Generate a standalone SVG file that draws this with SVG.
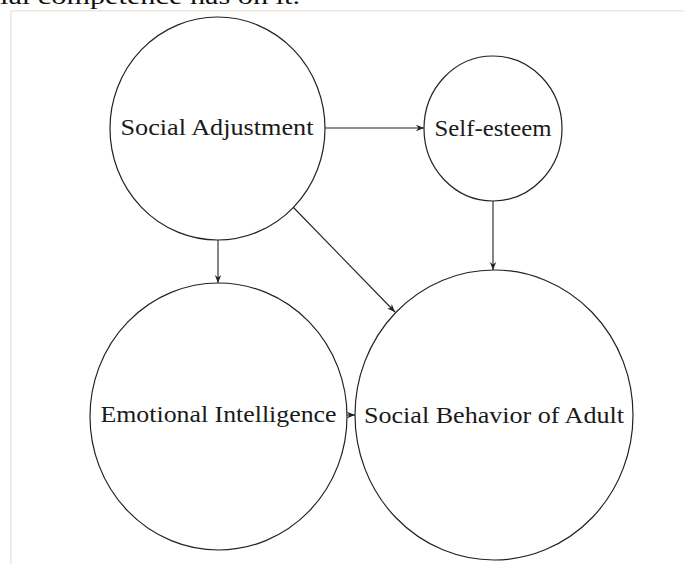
<svg xmlns="http://www.w3.org/2000/svg" width="684" height="564" viewBox="0 0 684 564">
<style>
.node ellipse{fill:none;stroke:#222;stroke-width:1.2}
.node text{font-family:"Liberation Serif","DejaVu Serif",serif;font-size:24px;fill:#1a1a1a;text-anchor:middle}
.edges line{stroke:#222;stroke-width:1.1;marker-end:url(#ah)}
.frame{stroke:#ece8dc;stroke-width:1.6;fill:none}
.cut{font-family:"Liberation Serif","DejaVu Serif",serif;font-size:24px;fill:#111}
</style>
<defs>
<marker id="ah" viewBox="0 0 10 10" refX="10" refY="5" markerWidth="8" markerHeight="8" markerUnits="userSpaceOnUse" orient="auto">
<path d="M0,1 L10,5 L0,9 L3,5 Z" fill="#222"/>
</marker>
</defs>
<rect width="684" height="564" fill="#fff"/>
<text class="cut" x="0" y="4" textLength="300" lengthAdjust="spacingAndGlyphs">ial competence has on it.</text>
<path class="frame" d="M10.8,564 V10.8 H684"/>
<g class="edges">
<line x1="325" y1="128" x2="424" y2="128"/>
<line x1="218" y1="240" x2="218" y2="283"/>
<line x1="293" y1="207" x2="395" y2="312"/>
<line x1="493" y1="201" x2="493" y2="270"/>
<line x1="347" y1="415" x2="355" y2="415"/>
</g>
<g id="social-adjustment" class="node">
<ellipse cx="217.5" cy="128.5" rx="107.5" ry="111.5"/>
<text x="217" y="135" textLength="193" lengthAdjust="spacingAndGlyphs">Social Adjustment</text>
</g>
<g id="self-esteem" class="node">
<ellipse cx="493" cy="128.5" rx="69" ry="72.5"/>
<text x="493" y="136" textLength="117" lengthAdjust="spacingAndGlyphs">Self-esteem</text>
</g>
<g id="emotional-intelligence" class="node">
<ellipse cx="218.5" cy="416.5" rx="128.5" ry="133.5"/>
<text x="218.5" y="422" textLength="236" lengthAdjust="spacingAndGlyphs">Emotional Intelligence</text>
</g>
<g id="social-behavior" class="node">
<ellipse cx="494" cy="415" rx="139" ry="145"/>
<text x="494" y="423" textLength="260" lengthAdjust="spacingAndGlyphs">Social Behavior of Adult</text>
</g>
</svg>
